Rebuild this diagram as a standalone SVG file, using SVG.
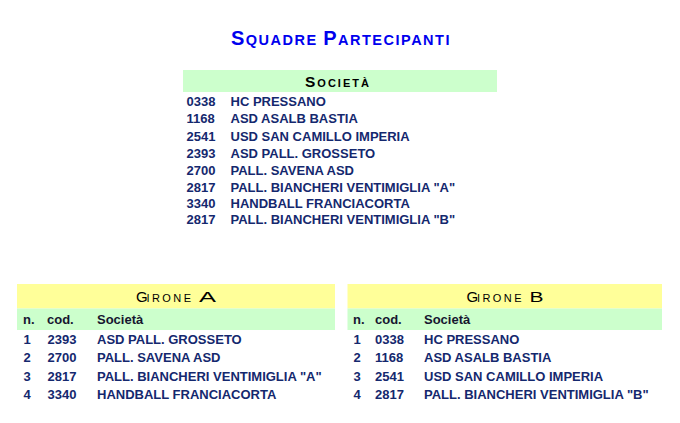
<svg xmlns="http://www.w3.org/2000/svg" width="680" height="423" viewBox="0 0 680 423">
<style>
.row{font-family:"Liberation Sans",Arial,sans-serif;font-weight:bold;font-size:13px;fill:#14286e}
.sub{font-family:"Liberation Sans",Arial,sans-serif;font-weight:bold;font-size:13px;fill:#161630}
.title{font-family:"Liberation Sans",Arial,sans-serif;font-weight:bold;fill:#0000ee;letter-spacing:1.5px}
.hdr{font-family:"Liberation Sans",Arial,sans-serif;fill:#000}
.green{fill:#ccffcc}
.yellow{fill:#ffff99}
</style>
<rect width="680" height="423" fill="#ffffff"/>
<g id="title">
<text class="title" x="231" y="44.5"><tspan font-size="20">S</tspan><tspan font-size="14.5">QUADRE </tspan><tspan font-size="20">P</tspan><tspan font-size="14.5">ARTECIPANTI</tspan></text>
</g>
<g id="societa">
<rect class="green" x="183" y="70" width="314" height="22"/>
<text class="hdr" x="305" y="86.5" font-weight="bold" letter-spacing="2"><tspan font-size="15.5">S</tspan><tspan font-size="11">OCIETÀ</tspan></text>
<text class="row" x="186.5" y="106">0338</text><text class="row" x="230.5" y="106">HC PRESSANO</text>
<text class="row" x="186.5" y="123">1168</text><text class="row" x="230.5" y="123">ASD ASALB BASTIA</text>
<text class="row" x="186.5" y="141">2541</text><text class="row" x="230.5" y="141">USD SAN CAMILLO IMPERIA</text>
<text class="row" x="186.5" y="158">2393</text><text class="row" x="230.5" y="158">ASD PALL. GROSSETO</text>
<text class="row" x="186.5" y="175">2700</text><text class="row" x="230.5" y="175">PALL. SAVENA ASD</text>
<text class="row" x="186.5" y="192">2817</text><text class="row" x="230.5" y="192">PALL. BIANCHERI VENTIMIGLIA "A"</text>
<text class="row" x="186.5" y="208">3340</text><text class="row" x="230.5" y="208">HANDBALL FRANCIACORTA</text>
<text class="row" x="186.5" y="224">2817</text><text class="row" x="230.5" y="224">PALL. BIANCHERI VENTIMIGLIA "B"</text>
</g>
<g id="girone-a">
<rect class="yellow" x="17" y="284" width="318" height="24.5"/>
<rect class="green" x="17" y="308.5" width="318" height="21.5"/>
<text class="hdr"><tspan x="136" y="301.5" font-size="15">G</tspan><tspan x="146.5" y="301.5" font-size="11" textLength="44.5" lengthAdjust="spacing">IRONE</tspan><tspan x="199" y="301.5" font-size="15" textLength="17" lengthAdjust="spacingAndGlyphs">A</tspan></text>
<text class="sub" x="23" y="323.5">n.</text><text class="sub" x="47" y="323.5">cod.</text><text class="sub" x="97" y="323.5">Società</text>
<text class="row" x="23.5" y="344">1</text><text class="row" x="47.5" y="344">2393</text><text class="row" x="97" y="344">ASD PALL. GROSSETO</text>
<text class="row" x="23.5" y="362">2</text><text class="row" x="47.5" y="362">2700</text><text class="row" x="97" y="362">PALL. SAVENA ASD</text>
<text class="row" x="23.5" y="380.5">3</text><text class="row" x="47.5" y="380.5">2817</text><text class="row" x="97" y="380.5">PALL. BIANCHERI VENTIMIGLIA "A"</text>
<text class="row" x="23.5" y="399">4</text><text class="row" x="47.5" y="399">3340</text><text class="row" x="97" y="399">HANDBALL FRANCIACORTA</text>
</g>
<g id="girone-b">
<rect class="yellow" x="347.5" y="284" width="314.5" height="24.5"/>
<rect class="green" x="347.5" y="308.5" width="314.5" height="21.5"/>
<text class="hdr"><tspan x="466.5" y="301.5" font-size="15">G</tspan><tspan x="477" y="301.5" font-size="11" textLength="44.5" lengthAdjust="spacing">IRONE</tspan><tspan x="529.5" y="301.5" font-size="15" textLength="14" lengthAdjust="spacingAndGlyphs">B</tspan></text>
<text class="sub" x="353" y="323.5">n.</text><text class="sub" x="375" y="323.5">cod.</text><text class="sub" x="424" y="323.5">Società</text>
<text class="row" x="353.5" y="344">1</text><text class="row" x="375" y="344">0338</text><text class="row" x="424" y="344">HC PRESSANO</text>
<text class="row" x="353.5" y="362">2</text><text class="row" x="375" y="362">1168</text><text class="row" x="424" y="362">ASD ASALB BASTIA</text>
<text class="row" x="353.5" y="380.5">3</text><text class="row" x="375" y="380.5">2541</text><text class="row" x="424" y="380.5">USD SAN CAMILLO IMPERIA</text>
<text class="row" x="353.5" y="399">4</text><text class="row" x="375" y="399">2817</text><text class="row" x="424" y="399">PALL. BIANCHERI VENTIMIGLIA "B"</text>
</g>
</svg>
